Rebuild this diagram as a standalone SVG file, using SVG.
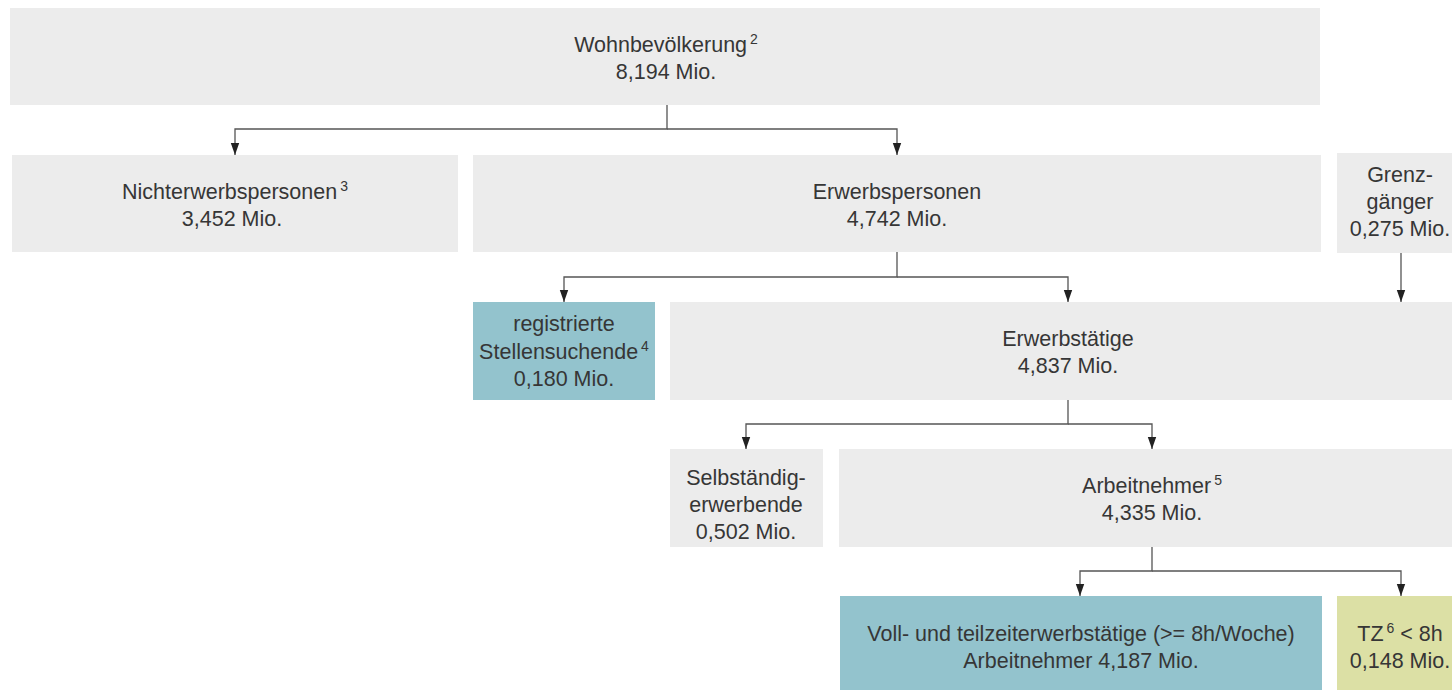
<svg xmlns="http://www.w3.org/2000/svg" width="1452" height="690" viewBox="0 0 1452 690">
  <defs>
    <style>
      .g { fill: #ececec; }
      .b { fill: #93c3cd; }
      .y { fill: #dce0a5; }
      text { font-family: "Liberation Sans", Arial, sans-serif; font-size: 21.5px; fill: #363636; text-anchor: middle; }
      .sup { font-size: 14px; }
      .c { fill: none; stroke: #555555; stroke-width: 1.3; }
    </style>
  </defs>
  <rect width="1452" height="690" fill="#ffffff"/>

  <g id="connectors">
    <path class="c" d="M667,105 V129 H235 V155"/>
    <path class="c" d="M667,129 H897 V155"/>
    <path class="c" d="M897,252 V277 H564 V302"/>
    <path class="c" d="M897,277 H1068 V302"/>
    <path class="c" d="M1401,253 V302"/>
    <path class="c" d="M1068,400 V424 H746 V449"/>
    <path class="c" d="M1068,424 H1152 V449"/>
    <path class="c" d="M1152,547 V571 H1080 V596"/>
    <path class="c" d="M1152,571 H1401 V596"/>
    <g fill="#222222">
      <path d="M230.8,143 L239.2,143 L235,155 Z"/>
      <path d="M892.8,143 L901.2,143 L897,155 Z"/>
      <path d="M559.8,290 L568.2,290 L564,302 Z"/>
      <path d="M1063.8,290 L1072.2,290 L1068,302 Z"/>
      <path d="M1396.8,290 L1405.2,290 L1401,302 Z"/>
      <path d="M741.8,437 L750.2,437 L746,449 Z"/>
      <path d="M1147.8,437 L1156.2,437 L1152,449 Z"/>
      <path d="M1075.8,584 L1084.2,584 L1080,596 Z"/>
      <path d="M1396.8,584 L1405.2,584 L1401,596 Z"/>
    </g>
  </g>

  <g id="wohnbevoelkerung">
    <rect class="g" x="10" y="8" width="1310" height="97"/>
    <text x="666" y="52">Wohnbevölkerung<tspan class="sup" dx="3" dy="-8">2</tspan></text>
    <text x="666" y="79">8,194 Mio.</text>
  </g>

  <g id="nichterwerbspersonen">
    <rect class="g" x="12" y="155" width="446" height="97"/>
    <text x="235" y="199">Nichterwerbspersonen<tspan class="sup" dx="3" dy="-8">3</tspan></text>
    <text x="232" y="226">3,452 Mio.</text>
  </g>

  <g id="erwerbspersonen">
    <rect class="g" x="473" y="155" width="848" height="97"/>
    <text x="897" y="199">Erwerbspersonen</text>
    <text x="897" y="226">4,742 Mio.</text>
  </g>

  <g id="grenzgaenger">
    <rect class="g" x="1337" y="153" width="130" height="100"/>
    <text x="1400" y="182">Grenz-</text>
    <text x="1400" y="209">gänger</text>
    <text x="1400" y="236">0,275 Mio.</text>
  </g>

  <g id="stellensuchende">
    <rect class="b" x="473" y="302" width="182" height="98"/>
    <text x="564" y="331">registrierte</text>
    <text x="564" y="358.5">Stellensuchende<tspan class="sup" dx="3" dy="-8">4</tspan></text>
    <text x="564" y="386">0,180 Mio.</text>
  </g>

  <g id="erwerbstaetige">
    <rect class="g" x="670" y="302" width="797" height="98"/>
    <text x="1068" y="346">Erwerbstätige</text>
    <text x="1068" y="373">4,837 Mio.</text>
  </g>

  <g id="selbstaendigerwerbende">
    <rect class="g" x="670" y="449" width="153" height="98"/>
    <text x="746" y="485">Selbständig-</text>
    <text x="746" y="512">erwerbende</text>
    <text x="746" y="539">0,502 Mio.</text>
  </g>

  <g id="arbeitnehmer">
    <rect class="g" x="839" y="449" width="628" height="98"/>
    <text x="1152" y="493">Arbeitnehmer<tspan class="sup" dx="3" dy="-8">5</tspan></text>
    <text x="1152" y="520">4,335 Mio.</text>
  </g>

  <g id="vollteilzeit">
    <rect class="b" x="840" y="596" width="482" height="94"/>
    <text x="1081" y="641">Voll- und teilzeiterwerbstätige (&gt;= 8h/Woche)</text>
    <text x="1081" y="668">Arbeitnehmer 4,187 Mio.</text>
  </g>

  <g id="tz">
    <rect class="y" x="1337" y="596" width="130" height="94"/>
    <text x="1400" y="641">TZ<tspan class="sup" dx="3" dy="-8">6</tspan><tspan dy="8"> &lt; 8h</tspan></text>
    <text x="1400" y="668">0,148 Mio.</text>
  </g>
</svg>
